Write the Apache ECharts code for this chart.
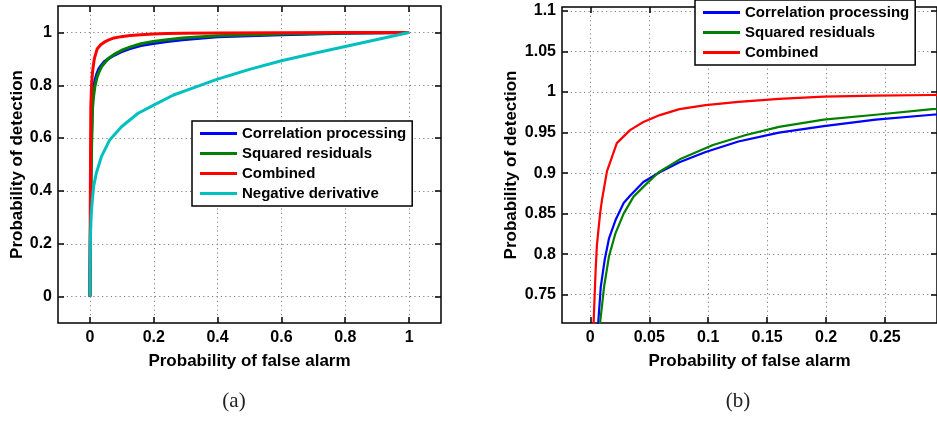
<!DOCTYPE html>
<html>
<head>
<meta charset="utf-8">
<script src="https://cdn.jsdelivr.net/npm/echarts@6/dist/echarts.min.js"></script>
<style>
html,body{margin:0;padding:0;background:#fff;}
#c{width:937px;height:421px;}
</style>
</head>
<body>
<div id="c"></div>
<script>
// ---- data ----
const seriesNames = ['Correlation processing', 'Squared residuals', 'Combined', 'Negative derivative'];

const pfaCorr = [0, 0.002, 0.004, 0.0067, 0.0089, 0.0122, 0.0158, 0.0214, 0.0283, 0.0337, 0.045, 0.0589, 0.0756, 0.0978, 0.1256, 0.160, 0.198, 0.242, 0.29, 0.4, 0.6, 0.8, 1];
const pdCorr  = [0, 0.3, 0.55, 0.715, 0.76, 0.793, 0.819, 0.842, 0.863, 0.872, 0.889, 0.901, 0.9134, 0.926, 0.939, 0.950, 0.958, 0.966, 0.972, 0.984, 0.991, 0.997, 1];

const pfaSq = [0, 0.002, 0.005, 0.0083, 0.0117, 0.0158, 0.0214, 0.0283, 0.0367, 0.0478, 0.058, 0.0759, 0.104, 0.132, 0.160, 0.198, 0.242, 0.29, 0.4, 0.6, 0.8, 1];
const pdSq  = [0, 0.3, 0.55, 0.715, 0.76, 0.797, 0.826, 0.85, 0.871, 0.887, 0.901, 0.917, 0.9346, 0.947, 0.957, 0.966, 0.972, 0.979, 0.987, 0.994, 0.998, 1];

const pfaComb = [0, 0.001, 0.002, 0.0028, 0.0045, 0.0056, 0.0083, 0.0099, 0.0141, 0.0225, 0.0337, 0.045, 0.059, 0.0756, 0.0978, 0.1256, 0.160, 0.198, 0.242, 0.29, 0.4, 0.6, 0.8, 1];
const pdComb  = [0, 0.3, 0.55, 0.715, 0.78, 0.811, 0.85, 0.867, 0.902, 0.937, 0.953, 0.963, 0.9716, 0.979, 0.984, 0.988, 0.9915, 0.9943, 0.9955, 0.9964, 0.9975, 0.9985, 0.9993, 1];

const pfaNeg = [0, 0.001, 0.002, 0.004, 0.0075, 0.012, 0.02, 0.036, 0.062, 0.099, 0.151, 0.2, 0.262, 0.3, 0.4, 0.5, 0.6, 0.7, 0.8, 0.9, 1];
const pdNeg  = [0, 0.15, 0.24, 0.31, 0.366, 0.42, 0.467, 0.53, 0.593, 0.643, 0.694, 0.725, 0.763, 0.78, 0.823, 0.86, 0.893, 0.92, 0.947, 0.973, 1];

const ticksAX = ['0', '0.2', '0.4', '0.6', '0.8', '1'];
const ticksAY = ['0', '0.2', '0.4', '0.6', '0.8', '1'];
const ticksBX = ['0', '0.05', '0.1', '0.15', '0.2', '0.25'];
const ticksBY = ['0.75', '0.8', '0.85', '0.9', '0.95', '1', '1.05', '1.1'];

const captions = ['(a)', '(b)'];
// --------------------------------------

const colors = ['#0000ff', '#008000', '#ff0000', '#00bfbf'];
const FONT = '"Liberation Sans", Arial, Helvetica, sans-serif';

function zip(xs, ys) { return xs.map((x, i) => [x, ys[i]]); }
const curves = [zip(pfaCorr, pdCorr), zip(pfaSq, pdSq), zip(pfaComb, pdComb), zip(pfaNeg, pdNeg)];

function nums(arr) { return arr.map(Number); }

function axis(gridIndex, position, min, max, ticks, withLabels, name, nameGap) {
  const isY = position === 'left' || position === 'right';
  const a = {
    type: 'value',
    gridIndex: gridIndex,
    position: position,
    min: min, max: max,
    axisLine: { show: false, onZero: false },
    axisTick: { show: true, inside: true, length: 6, customValues: nums(ticks), lineStyle: { color: '#000', width: 1.5 } },
    axisLabel: withLabels ? {
      show: true, customValues: nums(ticks), color: '#000', fontFamily: FONT, fontWeight: 'bold', fontSize: 16,
      margin: isY ? 6 : 7,
      formatter: function (v) { const i = nums(ticks).findIndex(t => Math.abs(t - v) < 1e-9); return i >= 0 ? ticks[i] : String(v); }
    } : { show: false },
    splitLine: withLabels ? { show: true, lineStyle: { color: '#808080', width: 1, type: [1.2, 3.2] } } : { show: false }
  };
  if (name) {
    a.name = name;
    a.nameLocation = 'middle';
    a.nameGap = nameGap;
    a.nameTextStyle = { color: '#000', fontFamily: FONT, fontWeight: 'bold', fontSize: 17 };
  }
  return a;
}

const chart = echarts.init(document.getElementById('c'), null, { renderer: 'canvas' });

const series = [];
for (let i = 0; i < 4; i++) {
  series.push({
    name: seriesNames[i], type: 'line', xAxisIndex: 0, yAxisIndex: 0,
    data: curves[i], showSymbol: false, symbol: 'none', smooth: false,
    lineStyle: { color: colors[i], width: 3, join: 'round' }, itemStyle: { color: colors[i] },
    animation: false, silent: true, z: 3 + i
  });
}
for (let i = 0; i < 3; i++) {
  series.push({
    name: seriesNames[i], type: 'line', xAxisIndex: 2, yAxisIndex: 2,
    data: curves[i], showSymbol: false, symbol: 'none', smooth: false,
    lineStyle: { color: colors[i], width: 2.2, join: 'round' }, itemStyle: { color: colors[i] },
    animation: false, silent: true, z: 3 + i, clip: true
  });
}

const legendCommon = {
  orient: 'vertical',
  selectedMode: false,
  backgroundColor: '#fff',
  borderColor: '#000',
  borderWidth: 1.5,
  borderRadius: 0,
  icon: 'rect',
  itemWidth: 37,
  itemHeight: 3,
  itemGap: 3,
  itemStyle: { borderWidth: 0 },
  padding: [4, 6, 4, 8],
  textStyle: { color: '#000', fontFamily: FONT, fontWeight: 'bold', fontSize: 15, lineHeight: 17 },
  z: 10
};

chart.setOption({
  animation: false,
  backgroundColor: '#fff',
  grid: [
    { left: 58, top: 6, width: 383, height: 317, show: true, borderColor: '#000', borderWidth: 1.5, backgroundColor: 'transparent' },
    { left: 562, top: 7, width: 377, height: 316, show: true, borderColor: '#000', borderWidth: 1.5, backgroundColor: 'transparent' }
  ],
  xAxis: [
    axis(0, 'bottom', -0.1, 1.1, ticksAX, true, 'Probability of false alarm', 30),
    axis(0, 'top', -0.1, 1.1, ticksAX, false),
    axis(1, 'bottom', -0.024, 0.294, ticksBX, true, 'Probability of false alarm', 30),
    axis(1, 'top', -0.024, 0.294, ticksBX, false)
  ],
  yAxis: [
    axis(0, 'left', -0.1, 1.1, ticksAY, true, 'Probability of detection', 31),
    axis(0, 'right', -0.1, 1.1, ticksAY, false),
    axis(1, 'left', 0.715, 1.105, ticksBY, true, 'Probability of detection', 42),
    axis(1, 'right', 0.715, 1.105, ticksBY, false)
  ],
  legend: [
    Object.assign({}, legendCommon, { left: 192, top: 121, data: seriesNames.slice(0, 4) }),
    Object.assign({}, legendCommon, { left: 695, top: 0, data: seriesNames.slice(0, 3) })
  ],
  graphic: [
    { type: 'text', x: 234, y: 401, style: { text: captions[0], align: 'center', verticalAlign: 'middle', font: '21px "Liberation Serif", "DejaVu Serif", serif', fill: '#222' } },
    { type: 'text', x: 738, y: 401, style: { text: captions[1], align: 'center', verticalAlign: 'middle', font: '21px "Liberation Serif", "DejaVu Serif", serif', fill: '#222' } }
  ],
  series: series
});
</script>
</body>
</html>
